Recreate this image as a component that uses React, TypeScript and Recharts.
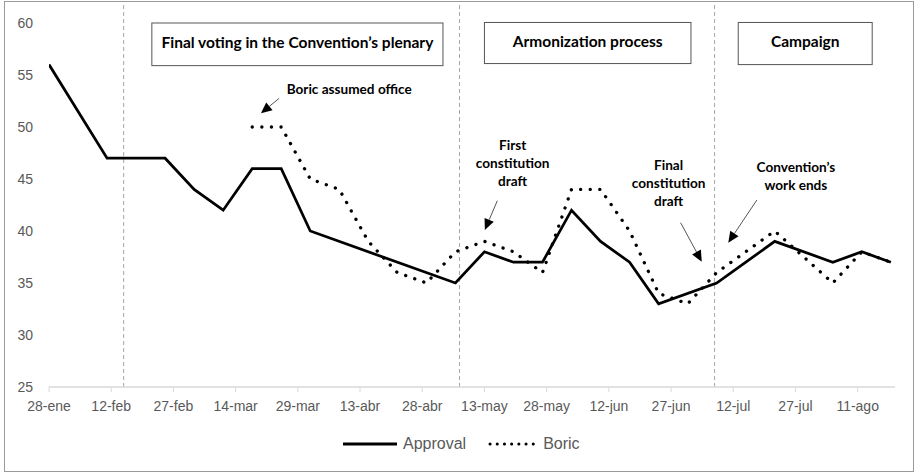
import React from 'react';
import {
  LineChart,
  Line,
  XAxis,
  YAxis,
  ReferenceLine,
  ReferenceArea,
  ReferenceDot,
  Legend,
} from 'recharts';

// ---- data ---------------------------------------------------------------

const START = Date.UTC(2022, 0, 28);
const dayOf = (iso: string) => (Date.parse(iso + 'T00:00:00Z') - START) / 86400000;

const approvalDates = [
  '2022-01-28', '2022-02-11', '2022-02-25', '2022-03-04', '2022-03-11', '2022-03-18',
  '2022-03-25', '2022-04-01', '2022-05-06', '2022-05-13', '2022-05-20', '2022-05-27',
  '2022-06-03', '2022-06-10', '2022-06-17', '2022-06-24', '2022-07-08', '2022-07-22',
  '2022-08-05', '2022-08-12', '2022-08-19',
];
const approvalValues = [56, 47, 47, 44, 42, 46, 46, 40, 35, 38, 37, 37, 42, 39, 37, 33, 35, 39, 37, 38, 37];

const boricDates = [
  '2022-03-18', '2022-03-25', '2022-04-01', '2022-04-08', '2022-04-15', '2022-04-22',
  '2022-04-29', '2022-05-06', '2022-05-13', '2022-05-20', '2022-05-27', '2022-06-03',
  '2022-06-10', '2022-06-17', '2022-06-24', '2022-07-01', '2022-07-08', '2022-07-22',
  '2022-08-05', '2022-08-12', '2022-08-19',
];
const boricValues = [50, 50, 45, 44, 39, 36, 35, 38, 39, 38, 36, 44, 44, 40, 34, 33, 36, 40, 35, 38, 37];

const tickDates = [
  '2022-01-28', '2022-02-12', '2022-02-27', '2022-03-14', '2022-03-29', '2022-04-13', '2022-04-28',
  '2022-05-13', '2022-05-28', '2022-06-12', '2022-06-27', '2022-07-12', '2022-07-27', '2022-08-11',
];
const tickLabels = [
  '28-ene', '12-feb', '27-feb', '14-mar', '29-mar', '13-abr', '28-abr',
  '13-may', '28-may', '12-jun', '27-jun', '12-jul', '27-jul', '11-ago',
];
const yTicks = [25, 30, 35, 40, 45, 50, 55, 60];

const axisEndDate = '2022-08-20';
const phaseBreakDays = [18, 99, 160.5];
const phaseNames = ['Final voting in the Convention\u2019s plenary', 'Armonization process', 'Campaign'];

// merged table keyed by day number
const buildRows = () => {
  const map = new Map<number, { day: number; approval?: number; boric?: number }>();
  approvalDates.forEach((d, i) => {
    const k = dayOf(d);
    map.set(k, { ...(map.get(k) || { day: k }), approval: approvalValues[i] });
  });
  boricDates.forEach((d, i) => {
    const k = dayOf(d);
    map.set(k, { ...(map.get(k) || { day: k }), boric: boricValues[i] });
  });
  return Array.from(map.values()).sort((a, b) => a.day - b.day);
};
const rows = buildRows();
const tickDays = tickDates.map(dayOf);
const labelByDay = new Map(tickDays.map((d, i) => [d, tickLabels[i]]));

// ---- drawing helpers ----------------------------------------------------

const GREY_TEXT = '#595959';
const ANNOT_FONT = 'Lato, "Open Sans", sans-serif';
const AXIS_FONT = '"Liberation Sans", Arial, sans-serif';

const phaseBox = (text: string) => (p: any) => {
  const { x, y, width, height } = p;
  return (
    <g>
      <rect x={x} y={y} width={width} height={height} fill="#fff" stroke="#555" strokeWidth={1} />
      <text
        x={x + width / 2}
        y={y + 25}
        textAnchor="middle"
        fontFamily={ANNOT_FONT}
        fontWeight={700}
        fontSize={15.5}
        fill="#000"
      >
        {text}
      </text>
    </g>
  );
};

const noteText = (lines: string[]) => (p: any) => {
  const { cx, cy } = p;
  const lh = 18;
  return (
    <text textAnchor="middle" fontFamily={ANNOT_FONT} fontWeight={700} fontSize={13.6} fill="#000">
      {lines.map((l, i) => (
        <tspan key={i} x={cx} y={cy + (i - (lines.length - 1) / 2) * lh + 4.8}>
          {l}
        </tspan>
      ))}
    </text>
  );
};

const arrowShape = (p: any) => {
  const { x1, y1, x2, y2 } = p;
  const dx = x2 - x1;
  const dy = y2 - y1;
  const len = Math.sqrt(dx * dx + dy * dy) || 1;
  const ux = dx / len;
  const uy = dy / len;
  const head = 11;
  const half = 5;
  const bx = x2 - ux * head;
  const by = y2 - uy * head;
  const pts = `${x2},${y2} ${bx - uy * half},${by + ux * half} ${bx + uy * half},${by - ux * half}`;
  return (
    <g>
      <line x1={x1} y1={y1} x2={bx} y2={by} stroke="#555" strokeWidth={1} />
      <polygon points={pts} fill="#000" />
    </g>
  );
};

const LegendContent = () => (
  <div
    style={{
      width: 914,
      height: 56,
      display: 'flex',
      alignItems: 'center',
      paddingLeft: 343,
      paddingBottom: 3,
      boxSizing: 'border-box',
      fontFamily: AXIS_FONT,
      fontSize: 16,
      color: GREY_TEXT,
    }}
  >
    <svg width={54} height={6} style={{ marginRight: 6 }}>
      <line x1={0} y1={3} x2={54} y2={3} stroke="#000" strokeWidth={3} />
    </svg>
    <span style={{ marginRight: 22 }}>Approval</span>
    <svg width={52} height={6} style={{ marginRight: 3 }}>
      <line
        x1={2}
        y1={3}
        x2={52}
        y2={3}
        stroke="#000"
        strokeWidth={3}
        strokeLinecap="round"
        strokeDasharray="0.1 7.1"
      />
    </svg>
    <span>Boric</span>
  </div>
);

// ---- chart --------------------------------------------------------------

export default function App() {
  const xEnd = dayOf(axisEndDate);
  return (
    <div style={{ position: 'absolute', left: 0, top: 0, width: 914, height: 473, background: '#fff' }}>
      <div
        style={{
          position: 'absolute',
          left: 4,
          top: 1,
          width: 910,
          height: 471,
          boxSizing: 'border-box',
          border: '1.5px solid #9a9a9a',
        }}
      />
      <LineChart
        width={914}
        height={473}
        data={rows}
        margin={{ top: 5, right: 19, bottom: 0, left: 0 }}
        style={{ position: 'absolute', left: 0, top: 0 }}
      >
        <XAxis
          type="number"
          dataKey="day"
          domain={[0, xEnd]}
          ticks={tickDays}
          tickFormatter={(v: number) => labelByDay.get(v) ?? ''}
          axisLine={{ stroke: '#d9d9d9', strokeWidth: 1.5 }}
          tickLine={{ stroke: '#d9d9d9', strokeWidth: 1 }}
          tickSize={5}
          tickMargin={9}
          height={30}
          interval={0}
          allowDataOverflow
          tick={{ fill: GREY_TEXT, fontSize: 14, fontFamily: AXIS_FONT }}
        />
        <YAxis
          type="number"
          domain={[25, 61.73]}
          ticks={yTicks}
          axisLine={false}
          tickLine={false}
          tickSize={6}
          tickMargin={10}
          width={49}
          allowDataOverflow
          tick={{ fill: GREY_TEXT, fontSize: 14, fontFamily: AXIS_FONT }}
        />

        {phaseBreakDays.map((d) => (
          <ReferenceLine key={d} x={d} stroke="#a6a6a6" strokeWidth={1} strokeDasharray="4 3" />
        ))}

        <ReferenceArea x1={24.8} x2={95} y1={55.9} y2={60} shape={phaseBox(phaseNames[0])} />
        <ReferenceArea x1={105} x2={154.8} y1={56.1} y2={60.05} shape={phaseBox(phaseNames[1])} />
        <ReferenceArea x1={166.2} x2={198.5} y1={56} y2={60.05} shape={phaseBox(phaseNames[2])} />

        <ReferenceDot x={72.4} y={53.63} r={1} shape={noteText(['Boric assumed office'])} />
        <ReferenceDot x={111.8} y={46.52} r={1} shape={noteText(['First', 'constitution', 'draft'])} />
        <ReferenceDot x={149.4} y={44.63} r={1} shape={noteText(['Final', 'constitution', 'draft'])} />
        <ReferenceDot x={180.1} y={45.3} r={1} shape={noteText(['Convention\u2019s', 'work ends'])} />

        <ReferenceLine segment={[{ x: 55.5, y: 52.76 }, { x: 51.1, y: 51.32 }]} shape={arrowShape} />
        <ReferenceLine segment={[{ x: 108.1, y: 42.91 }, { x: 105.1, y: 40.1 }]} shape={arrowShape} />
        <ReferenceLine segment={[{ x: 152.3, y: 40.8 }, { x: 157.4, y: 37.05 }]} shape={arrowShape} />
        <ReferenceLine segment={[{ x: 170.7, y: 42.98 }, { x: 163.8, y: 38.88 }]} shape={arrowShape} />

        <Line
          type="linear"
          dataKey="approval"
          name="Approval"
          stroke="#000"
          strokeWidth={2.75}
          dot={false}
          activeDot={false}
          connectNulls
          isAnimationActive={false}
        />
        <Line
          type="linear"
          dataKey="boric"
          name="Boric"
          stroke="#000"
          strokeWidth={3.3}
          strokeLinecap="round"
          strokeDasharray="0.1 9.5"
          dot={false}
          activeDot={false}
          connectNulls
          isAnimationActive={false}
        />

        <Legend
          verticalAlign="bottom"
          height={56}
          content={() => <LegendContent />}
          wrapperStyle={{ left: 0, bottom: 0, width: 914, height: 56 }}
        />
      </LineChart>
    </div>
  );
}
